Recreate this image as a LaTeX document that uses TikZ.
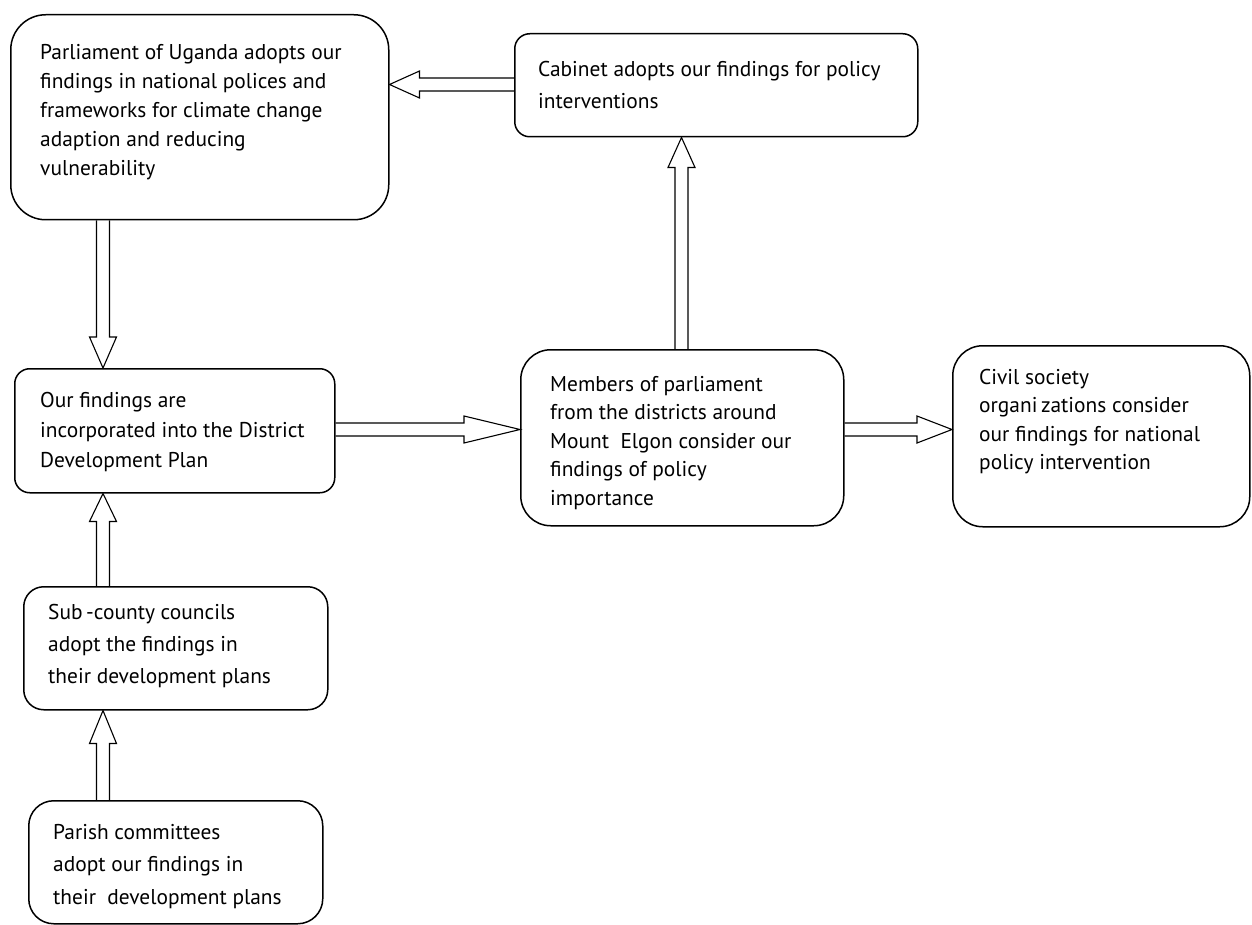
\documentclass[tikz,border=0pt]{standalone}
\usepackage{fontspec}
\setmainfont{PT Sans}
\usetikzlibrary{calc}
\tikzset{
  box/.style={draw, line width=1.5pt, fill=white, anchor=north west, inner sep=0pt},
  txt/.style={anchor=north west, inner sep=0pt, align=left, font=\fontsize{21.4}{29}\selectfont},
  arr/.style={draw, line width=1.1pt, line join=miter},
}
\newcommand\blockarrow[3]{%
  \path ($(#2)!#3!(#1)$) coordinate (hb);
  \draw[arr] ($(#1)!6.5pt!90:(#2)$) -- ($(hb)!6.5pt!90:(#2)$) -- ($(hb)!13.5pt!90:(#2)$) -- (#2)
     -- ($(hb)!13.5pt!-90:(#2)$) -- ($(hb)!6.5pt!-90:(#2)$) -- ($(#1)!6.5pt!-90:(#2)$);
}
\begin{document}
\begin{tikzpicture}[x=1pt,y=-1pt]
\useasboundingbox (0,0) rectangle (1252,925);
% boxes
\node[box, minimum width=378pt, minimum height=205pt, rounded corners=35pt] (parl) at (10,14) {};
\node[box, minimum width=403pt, minimum height=103pt, rounded corners=15pt] (cab) at (514,33) {};
\node[box, minimum width=320pt, minimum height=124pt, rounded corners=15pt] (our) at (14,368) {};
\node[box, minimum width=323pt, minimum height=176pt, rounded corners=30pt] (mem) at (520,349) {};
\node[box, minimum width=297pt, minimum height=181pt, rounded corners=30pt] (civ) at (952,345) {};
\node[box, minimum width=304pt, minimum height=123pt, rounded corners=20pt] (sub) at (23,586) {};
\node[box, minimum width=294pt, minimum height=123pt, rounded corners=25pt] (par) at (28,800) {};
% texts
\node[txt] (parlT) at (40,44) {Parliament of Uganda adopts our\\findings in national polices and\\frameworks for climate change\\adaption and reducing\\vulnerability};
\node[txt, font=\fontsize{21.4}{32}\selectfont] (cabT) at (538,61) {Cabinet adopts our findings for policy\\interventions};
\node[txt, font=\fontsize{21.4}{30}\selectfont] (ourT) at (40,392) {Our findings are\\incorporated into the District\\Development Plan};
\node[txt, font=\fontsize{21.4}{28.5}\selectfont] (memT) at (550,376) {Members of parliament\\from the districts around\\Mount\ \ Elgon consider our\\findings of policy\\importance};
\node[txt, font=\fontsize{21.4}{28.5}\selectfont] (civT) at (979,369) {Civil society\\organi\,zations consider\\our findings for national\\policy intervention};
\node[txt, font=\fontsize{21.4}{32}\selectfont] (subT) at (48,604) {Sub\,-county councils\\adopt the findings in\\their development plans};
\node[txt, font=\fontsize{21.4}{32.5}\selectfont] (parT) at (53,824) {Parish committees\\adopt our findings in\\their\ \ development plans};
% arrow guide coordinates
\coordinate (ya) at (0,84.5);
\coordinate (yb) at (0,429.5);
\coordinate (xa) at (103,0);
\coordinate (xb) at (681.5,0);
\coordinate (a1s) at (cab.west |- ya);  \coordinate (a1e) at (parl.east |- ya);
\coordinate (a2s) at (xa |- parl.south); \coordinate (a2e) at (xa |- our.north);
\coordinate (a3s) at (our.east |- yb);  \coordinate (a3e) at (mem.west |- yb);
\coordinate (a4s) at (mem.east |- yb);  \coordinate (a4e) at (civ.west |- yb);
\coordinate (a5s) at (xb |- mem.north); \coordinate (a5e) at (xb |- cab.south);
\coordinate (a6s) at (xa |- sub.north); \coordinate (a6e) at (xa |- our.south);
\coordinate (a7s) at (xa |- par.north); \coordinate (a7e) at (xa |- sub.south);
\blockarrow{a1s}{a1e}{30pt}
\blockarrow{a2s}{a2e}{31pt}
\blockarrow{a3s}{a3e}{56pt}
\blockarrow{a4s}{a4e}{35pt}
\blockarrow{a5s}{a5e}{30pt}
\blockarrow{a6s}{a6e}{28pt}
\blockarrow{a7s}{a7e}{33pt}
\end{tikzpicture}
\end{document}
